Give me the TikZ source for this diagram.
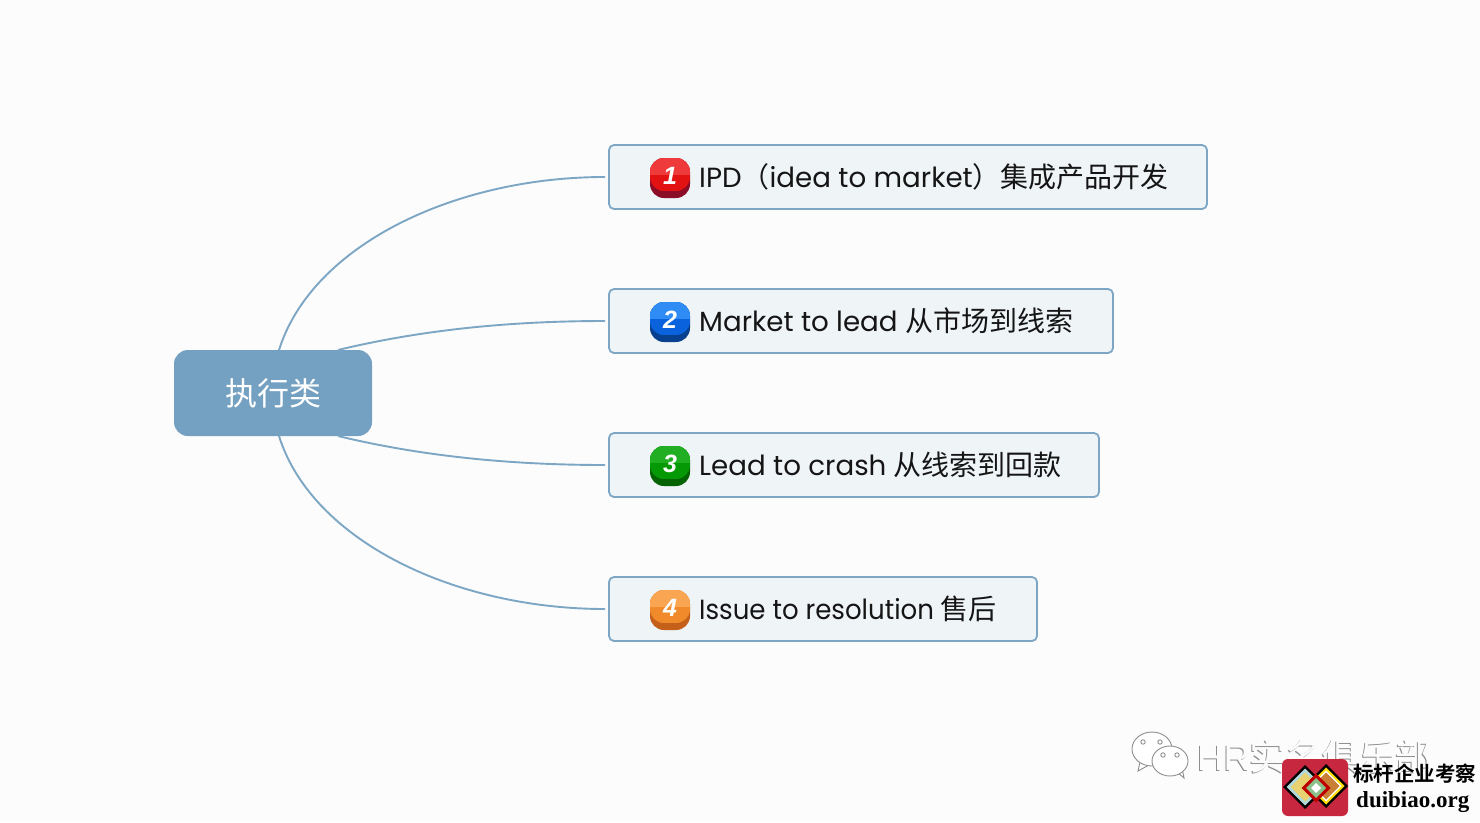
\documentclass[tikz,border=0pt]{standalone}
\usepackage{fontspec}
\setmainfont{Poppins}
\newfontfamily\popsn{Poppins}[FakeStretch=0.94]
\newfontfamily\cjk{Noto Sans CJK SC}
\newfontfamily\cjkb{Noto Sans CJK SC}[BoldFont={Noto Sans CJK SC Bold}]
\newfontfamily\serifb{Liberation Serif}
\newfontfamily\nsans{Liberation Sans}
\usetikzlibrary{calc}
\definecolor{bgc}{HTML}{FCFCFC}
\definecolor{linec}{HTML}{7CA6C4}
\definecolor{rootc}{HTML}{74A0C1}
\definecolor{boxc}{HTML}{EFF4F7}
\definecolor{inkc}{HTML}{151515}
\definecolor{wmc}{HTML}{8E8E8E}
\definecolor{logor}{HTML}{C8283F}
\definecolor{r1}{HTML}{EE3A3A}\definecolor{r2}{HTML}{E21212}\definecolor{r3}{HTML}{8A0C26}
\definecolor{b1}{HTML}{2F8CF5}\definecolor{b2}{HTML}{0A62DC}\definecolor{b3}{HTML}{07408F}
\definecolor{g1}{HTML}{22AE22}\definecolor{g2}{HTML}{059A05}\definecolor{g3}{HTML}{046404}
\definecolor{o1}{HTML}{F9A552}\definecolor{o2}{HTML}{F08A2A}\definecolor{o3}{HTML}{C4601A}
\tikzset{
  x=1pt,y=-1pt,
  childbox/.style={draw=linec,fill=boxc,line width=1.8pt,rounded corners=5pt},
  rootbox/.style={fill=rootc,rounded corners=14pt},
  conn/.style={draw=linec,line width=1.9pt},
  lab/.style={anchor=west,inner sep=0pt,text=inkc,font=\fontsize{27.7}{32}\selectfont},
  numtxt/.style={text=white,inner sep=0pt,font=\nsans\fontsize{25}{25}\selectfont\bfseries\itshape},
  wmline/.style={draw=wmc,line width=.9pt,fill=white},
}
\newcommand{\zh}[1]{{\cjk\fontsize{28}{32}\selectfont #1}}
% badge: name, centre y, top colour, mid colour, dark colour, number
\newcommand{\badge}[6]{%
  \fill[#5,rounded corners=14pt] (650,#2-20) rectangle (690,#2+20);
  \begin{scope}
    \clip[rounded corners=14pt] (650,#2-20) rectangle (690,#2+13);
    \fill[#4] (650,#2-20) rectangle (690,#2+13);
    \fill[#3] (650,#2-20) rectangle (690,#2-3);
  \end{scope}
  \node[numtxt] (#1) at (670,#2-2) {#6};
}
\newcommand{\dia}[4]{\fill[#4] (#1,#2-#3) -- (#1+#3,#2) -- (#1,#2+#3) -- (#1-#3,#2) -- cycle;}
\begin{document}
\begin{tikzpicture}
\useasboundingbox (0,0) rectangle (1480,822);
\fill[bgc] (0,0) rectangle (1480,822);

% root and children
\path[rootbox] (174,350) rectangle (372,436);
\node[text=white,inner sep=0pt] (root) at (273,393) {\cjk\fontsize{32}{36}\selectfont 执行类};
\coordinate (rootN) at (273,350);
\coordinate (rootS) at (273,436);

\path[childbox] (609,145) rectangle (1207,209);
\path[childbox] (609,289) rectangle (1113,353);
\path[childbox] (609,433) rectangle (1099,497);
\path[childbox] (609,577) rectangle (1037,641);

\coordinate (e1) at (605,177);
\coordinate (e2) at (605,321);
\coordinate (e3) at (605,465);
\coordinate (e4) at (605,609);

\draw[conn] ($(rootN)+(6,0)$) .. controls (312,245) and (455,177) .. (e1);
\draw[conn] ($(rootN)+(65,0)$) .. controls (425,329) and (515,321) .. (e2);
\draw[conn] ($(rootS)+(65,0)$) .. controls (425,457) and (515,465) .. (e3);
\draw[conn] ($(rootS)+(6,0)$) .. controls (312,541) and (455,609) .. (e4);

\badge{n1}{178}{r1}{r2}{r3}{1}
\badge{n2}{322}{b1}{b2}{b3}{2}
\badge{n3}{466}{g1}{g2}{g3}{3}
\badge{n4}{610}{o1}{o2}{o3}{4}

\node[lab] (t1) at (699,177) {IPD\zh{（}idea to market\zh{）集成产品开发}};
\node[lab] (t2) at (699,321) {Market to lead \zh{从市场到线索}};
\node[lab] (t3) at (699,465) {Lead to crash \zh{从线索到回款}};
\node[lab] (t4) at (699,609) {\popsn Issue to resolution \zh{售后}};

% watermark
\begin{scope}[shift={(-1,0.8)}]
  \node[inner sep=0pt,anchor=west,text=wmc] (wmshadow) at (1197,757) {\nsans\fontsize{36.5}{40}\selectfont HR\cjk 实名俱乐部};
\end{scope}
\node[inner sep=0pt,anchor=west,text=bgc] (wm) at (1197,757) {\nsans\fontsize{36.5}{40}\selectfont HR\cjk 实名俱乐部};
\path[wmline] (1140,762) -- (1138,771) -- (1149,765) -- cycle;
\path[wmline] (1152,749) ellipse (20 and 17);
\path[wmline] (1177,772) -- (1184,778) -- (1182,768) -- cycle;
\path[wmline] (1170,761) ellipse (18 and 15);
\fill[white] (1172,770) -- (1180,769) -- (1180,773) -- cycle;
\foreach \p in {(1143,742),(1160,742),(1163,755),(1177,755)}
  \path[wmline] \p circle (2.2);

% logo
\fill[logor,rounded corners=6pt] (1282,759) rectangle (1348,816);
\dia{1305}{787}{22}{black}
\dia{1305}{787}{18.5}{white!70!teal}
\dia{1305}{787}{14.5}{brown!55!yellow!65!white}
\dia{1326}{786}{22}{black}
\dia{1326}{786}{18.5}{yellow!80!orange}
\dia{1326}{786}{15.5}{white}
\dia{1326}{786}{13.5}{brown!85!orange}
\dia{1316}{788}{14.5}{red!75!black}
\dia{1316}{788}{10}{green!30!gray!70!white}
\dia{1316}{788}{5}{white}
\node[inner sep=0pt,text=black,anchor=west] (logoa) at (1353,774) {\cjkb\bfseries\fontsize{20.5}{22}\selectfont 标杆企业考察};
\node[inner sep=0pt,text=black,anchor=west] (logob) at (1356,802) {\serifb\bfseries\fontsize{23}{22}\selectfont duibiao.org};
\end{tikzpicture}
\end{document}
